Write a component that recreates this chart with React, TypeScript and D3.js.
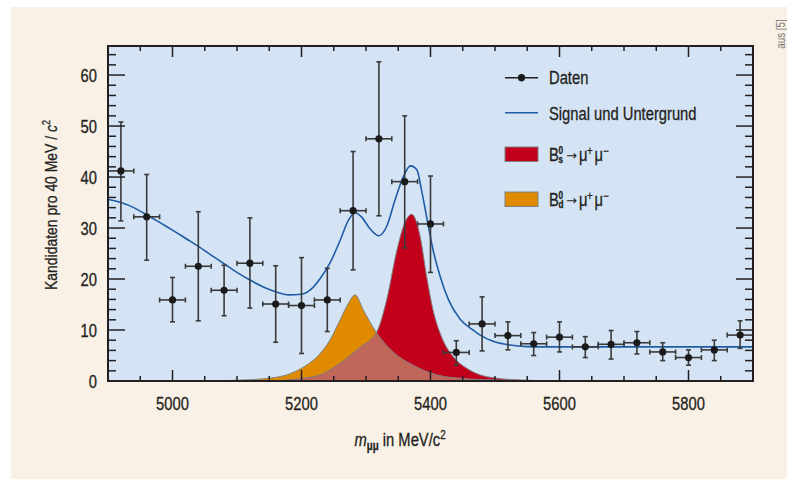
import React, { useEffect } from 'react';
import * as d3 from 'd3';

// data
const massBins = [4920, 4960, 5000, 5040, 5080, 5120, 5160, 5200, 5240, 5280, 5320, 5360, 5400, 5440, 5480, 5520, 5560, 5600, 5640, 5680, 5720, 5760, 5800, 5840, 5880];
const counts = [41.2, 32.2, 15.9, 22.5, 17.8, 23.1, 15.1, 14.8, 15.9, 33.4, 47.5, 39.1, 30.8, 5.6, 11.2, 8.9, 7.3, 8.6, 6.7, 7.2, 7.5, 5.7, 4.6, 6.1, 9.0];
const errLow = [9.8, 8.5, 4.3, 10.7, 5.0, 8.8, 7.5, 9.4, 6.2, 11.6, 15.1, 13.0, 9.5, 2.5, 5.3, 2.8, 2.3, 2.9, 2.1, 2.9, 2.2, 1.7, 1.5, 2.1, 2.6];
const errHigh = [9.6, 8.3, 4.4, 10.7, 4.9, 8.9, 7.5, 9.4, 6.2, 11.6, 15.1, 12.9, 9.4, 2.3, 5.3, 2.7, 2.2, 3.0, 2.0, 2.7, 2.2, 1.8, 1.5, 1.9, 2.8];
const binWidth = 40;

const fitMass = [4900, 4920, 4940, 4960, 4980, 5000, 5020, 5040, 5060, 5080, 5100, 5120, 5140, 5160, 5180, 5200, 5215, 5229, 5244, 5260, 5273, 5283, 5293, 5306, 5320, 5332, 5345, 5358, 5369, 5379, 5386, 5394, 5404, 5415, 5428, 5446, 5466, 5477, 5497, 5523, 5549, 5580, 5650, 5750, 5900];
const fitValue = [35.6, 35.0, 34.0, 32.6, 31.1, 29.6, 28.0, 26.4, 24.7, 23.0, 21.3, 19.8, 18.5, 17.5, 16.9, 17.0, 18.0, 20.1, 23.1, 27.6, 31.6, 33.0, 32.2, 29.9, 28.5, 30.3, 35.5, 40.1, 42.2, 41.4, 37.5, 32.2, 25.7, 20.5, 15.9, 12.1, 10.0, 9.0, 7.8, 7.06, 6.75, 6.7, 6.7, 6.7, 6.7];

const bsMass = [5150, 5200, 5229, 5260, 5290, 5317, 5332, 5348, 5360, 5371, 5384, 5394, 5404, 5417, 5435, 5456, 5477, 5500, 5540, 5600];
const bsValue = [0, 0.5, 1.2, 3.5, 6.5, 9.7, 15.9, 25.7, 31.0, 32.7, 28.3, 20.5, 13.9, 8.7, 4.8, 2.5, 1.2, 0.6, 0.2, 0];

const bdMass = [5050, 5100, 5146, 5177, 5200, 5229, 5244, 5260, 5273, 5283, 5296, 5315, 5342, 5373, 5410, 5450, 5500, 5560];
const bdValue = [0, 0.15, 0.5, 1.2, 2.5, 5.4, 8.0, 12.0, 15.3, 16.9, 13.9, 9.7, 5.7, 3.1, 1.2, 0.5, 0.2, 0];

const xTickLabels = [5000, 5200, 5400, 5600, 5800];
const yTickLabels = [0, 10, 20, 30, 40, 50, 60];

const font = '"Liberation Sans", Arial, sans-serif';
const ink = '#231f20';
const redFill = '#c2001b';
const orangeFill = '#e08a00';
const overlapFill = '#c0675a';
const fitColor = '#1f5ca6';
const narrow = 0.82;

// condensed text: normal font squeezed horizontally, slightly heavier
function NText(props: any) {
  const { x, y, rotate, anchor, children, ...rest } = props;
  const t = `translate(${x},${y})${rotate ? ` rotate(${rotate})` : ''} scale(${narrow},1)`;
  return (
    <text transform={t} textAnchor={anchor || 'start'} stroke={rest.fill || ink} strokeWidth={0.3} {...rest}>{children}</text>
  );
}

export default function App() {
  useEffect(() => {
    document.body.style.margin = '0';
  }, []);

  const left = 108, right = 753, top = 46, bottom = 381;
  const x = d3.scaleLinear().domain([4900, 5900]).range([left, right]);
  const y = d3.scaleLinear().domain([0, 65.7]).range([bottom, top]);

  const area = d3.area<[number, number]>()
    .x(d => x(d[0]))
    .y0(y(0))
    .y1(d => y(d[1]))
    .curve(d3.curveMonotoneX);
  const line = d3.line<[number, number]>()
    .x(d => x(d[0]))
    .y(d => y(d[1]))
    .curve(d3.curveMonotoneX);

  const bs = bsMass.map((m, i) => [m, bsValue[i]] as [number, number]);
  const bd = bdMass.map((m, i) => [m, bdValue[i]] as [number, number]);
  const fit = fitMass.map((m, i) => [m, fitValue[i]] as [number, number]);

  const xMinor = d3.range(4900, 5901, 50).filter(v => !xTickLabels.includes(v));
  const yMinor = d3.range(0, 65, 2).filter(v => v % 10 !== 0);

  const ticks: any[] = [];
  xTickLabels.forEach(v => {
    ticks.push(<line key={'xb' + v} x1={x(v)} x2={x(v)} y1={bottom} y2={bottom - 11} />);
    ticks.push(<line key={'xt' + v} x1={x(v)} x2={x(v)} y1={top} y2={top + 11} />);
  });
  xMinor.forEach(v => {
    ticks.push(<line key={'xbm' + v} x1={x(v)} x2={x(v)} y1={bottom} y2={bottom - 5} />);
    ticks.push(<line key={'xtm' + v} x1={x(v)} x2={x(v)} y1={top} y2={top + 5} />);
  });
  yTickLabels.forEach(v => {
    ticks.push(<line key={'yl' + v} x1={left} x2={left + 17} y1={y(v)} y2={y(v)} />);
    ticks.push(<line key={'yr' + v} x1={right} x2={right - 17} y1={y(v)} y2={y(v)} />);
  });
  yMinor.forEach(v => {
    ticks.push(<line key={'ylm' + v} x1={left} x2={left + 8} y1={y(v)} y2={y(v)} />);
    ticks.push(<line key={'yrm' + v} x1={right} x2={right - 8} y1={y(v)} y2={y(v)} />);
  });

  const legX = 505, legText = 549;

  const decay = (base: number, sub: string) => (
    <g>
      <NText x={legText} y={base}>B</NText>
      <NText x={legText + 9.5} y={base - 7} fontSize={10} fontWeight="bold">0</NText>
      <NText x={legText + 9.5} y={base + 1.5} fontSize={10} fontWeight="bold">{sub}</NText>
      <text x={legText + 17} y={base - 1} fontSize={13} fontFamily='"DejaVu Sans", sans-serif' fill={ink}>→</text>
      <NText x={legText + 30} y={base}>μ</NText>
      <NText x={legText + 38} y={base - 6} fontSize={12}>+</NText>
      <NText x={legText + 45.5} y={base}>μ</NText>
      <NText x={legText + 54} y={base - 6} fontSize={12}>−</NText>
    </g>
  );

  return (
    <svg width={787} height={479} style={{ position: 'absolute', left: 0, top: 0, display: 'block' }} fontFamily={font}>
      <defs>
        <clipPath id="plotClip"><rect x={left} y={top} width={right - left} height={bottom - top} /></clipPath>
        <clipPath id="bdClip"><path d={area(bd) || ''} /></clipPath>
      </defs>
      <rect x={0} y={0} width={787} height={479} fill="#ffffff" />
      <rect x={11} y={7} width={776} height={472} fill="#f9f0e6" />
      <NText x={785} y={34} rotate={-90} anchor="middle" fontSize={12} fill="#777" strokeWidth={0}>aus [5]</NText>

      <rect x={left} y={top} width={right - left} height={bottom - top} fill="#d4e4f4" />

      <g clipPath="url(#plotClip)">
        <path d={area(bd) || ''} fill={orangeFill} />
        <path d={area(bs) || ''} fill={redFill} />
        <path d={area(bs) || ''} fill={overlapFill} clipPath="url(#bdClip)" />
        <path d={line(bd) || ''} fill="none" stroke="#808080" strokeWidth={1} />
        <path d={line(bs) || ''} fill="none" stroke="#808080" strokeWidth={1} />
        <path d={line(fit) || ''} fill="none" stroke={fitColor} strokeWidth={1.6} />
      </g>

      <g stroke="#3a3a3a" strokeWidth={1.6}>
        {massBins.map((m, i) => {
          const cx = x(m), cy = y(counts[i]);
          const x0 = x(m - binWidth / 2), x1 = x(m + binWidth / 2);
          const yHi = y(counts[i] + errHigh[i]), yLo = y(counts[i] - errLow[i]);
          return (
            <g key={'pt' + i}>
              <line x1={cx} x2={cx} y1={yHi} y2={yLo} />
              <line x1={cx - 2.5} x2={cx + 2.5} y1={yHi} y2={yHi} />
              <line x1={cx - 2.5} x2={cx + 2.5} y1={yLo} y2={yLo} />
              <line x1={x0} x2={x1} y1={cy} y2={cy} />
              <line x1={x0} x2={x0} y1={cy - 2.5} y2={cy + 2.5} />
              <line x1={x1} x2={x1} y1={cy - 2.5} y2={cy + 2.5} />
              <circle cx={cx} cy={cy} r={3.6} fill="#1a1a1a" stroke="none" />
            </g>
          );
        })}
      </g>

      <g stroke={ink} strokeWidth={1.5}>{ticks}</g>
      <rect x={left} y={top} width={right - left} height={bottom - top} fill="none" stroke={ink} strokeWidth={2} />

      <g fontSize={18} fill={ink}>
        {xTickLabels.map(v => (
          <NText key={'xl' + v} x={x(v)} y={410} anchor="middle">{v}</NText>
        ))}
        {yTickLabels.map(v => (
          <NText key={'yl' + v} x={97} y={y(v) + 6.5} anchor="end">{v}</NText>
        ))}
      </g>

      <NText x={400} y={446} anchor="middle" fontSize={18} fill={ink}>
        <tspan fontStyle="italic">m</tspan>
        <tspan dy={4} fontSize={12} fontWeight="bold">μμ</tspan>
        <tspan dy={-4}> in MeV/c</tspan>
        <tspan dy={-7} fontSize={12}>2</tspan>
      </NText>
      <NText x={57} y={205} rotate={-90} anchor="middle" fontSize={17} fill={ink}>
        Kandidaten pro 40 MeV / <tspan fontStyle="italic">c</tspan><tspan dy={-7} fontSize={11}>2</tspan>
      </NText>

      {/* legend */}
      <g fill={ink} fontSize={18}>
        <line x1={legX} x2={legX + 33} y1={77.7} y2={77.7} stroke={ink} strokeWidth={1.5} />
        <line x1={legX + 16.5} x2={legX + 16.5} y1={74} y2={81.5} stroke={ink} strokeWidth={1.5} />
        <circle cx={legX + 16.5} cy={77.7} r={3.6} fill="#1a1a1a" />
        <NText x={legText} y={84}>Daten</NText>

        <line x1={legX} x2={legX + 33} y1={112.7} y2={112.7} stroke={fitColor} strokeWidth={1.6} />
        <NText x={legText} y={119.5}>Signal und Untergrund</NText>

        <rect x={legX} y={147} width={33} height={14.5} fill={redFill} stroke="#808080" strokeWidth={1} />
        {decay(161, 's')}

        <rect x={legX} y={192} width={33} height={14.5} fill={orangeFill} stroke="#808080" strokeWidth={1} />
        {decay(206, 'd')}
      </g>
    </svg>
  );
}
